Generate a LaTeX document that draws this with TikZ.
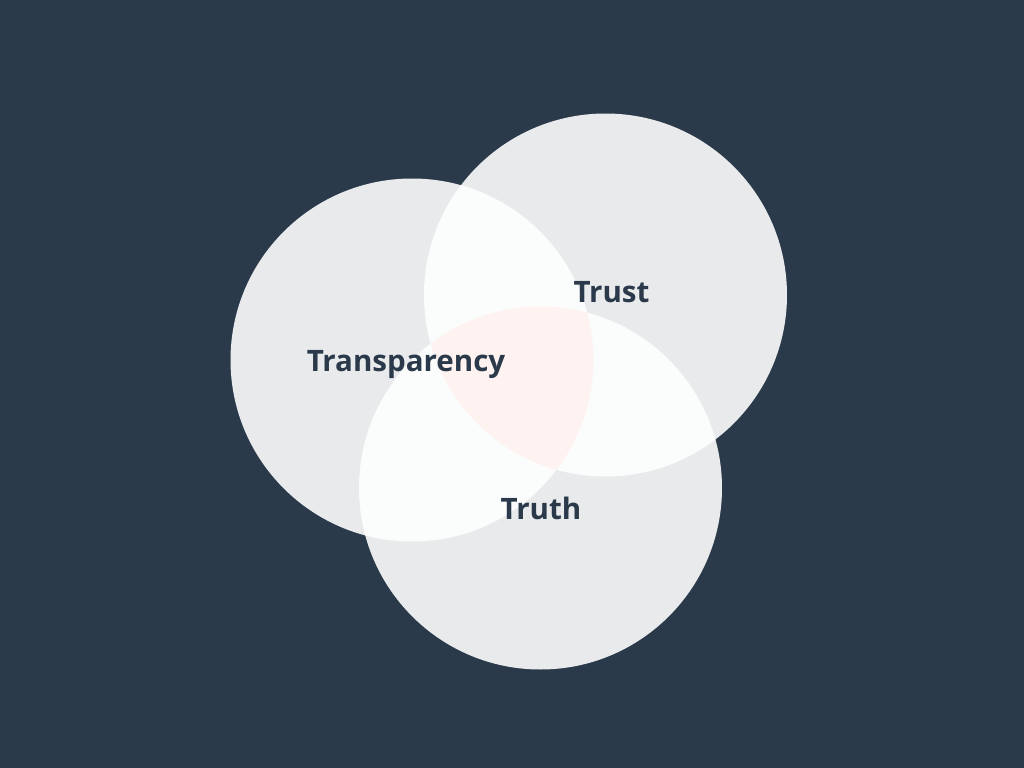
\documentclass[tikz,border=0pt]{standalone}
\usepackage{fontspec}
\setmainfont{Open Sans}
\usetikzlibrary{positioning}
\definecolor{vennBg}    {HTML}{2A3A4A}
\definecolor{vennCircle}{HTML}{E9EAEC}
\definecolor{vennPair}  {HTML}{FBFDFD}
\definecolor{vennCore}  {HTML}{FEF3F0}
\definecolor{vennText}  {HTML}{2A3A4A}
\tikzset{
  setlabel/.style = {anchor=base, inner sep=0pt, text=vennText,
                     font=\fontsize{8.4}{10}\selectfont\bfseries},
}
\newcommand{\rad}{1.815}

\begin{document}
\begin{tikzpicture}
    % background and size
    \fill[vennBg] (0,0) rectangle (10.24,-7.68);
    \useasboundingbox (0,0) rectangle (10.24,-7.68);
    \coordinate (transp) at (4.12,-3.60);
    \coordinate (trust)  at (6.055,-2.95);
    \coordinate (truth)  at (5.405,-4.88);
    % the three sets
    \foreach \c in {transp, trust, truth}
      \fill[vennCircle] (\c) circle (\rad);
    % pairwise overlaps
    \begin{scope}
      \clip (transp) circle (\rad);
      \fill[vennPair] (trust) circle (\rad);
      \fill[vennPair] (truth) circle (\rad);
    \end{scope}
    \begin{scope}
      \clip (trust) circle (\rad);
      \fill[vennPair] (truth) circle (\rad);
    \end{scope}
    % all three
    \begin{scope}
      \clip (transp) circle (\rad);
      \clip (trust) circle (\rad);
      \fill[vennCore] (truth) circle (\rad);
    \end{scope}
    \node[setlabel] (transpLbl) at (4.06,-3.71) {Transparency};
    \node[setlabel] (trustLbl)  at (6.115,-3.02) {Trust};
    \node[setlabel] (truthLbl)  at (5.41,-5.19) {Truth};
  \end{tikzpicture}
\end{document}
